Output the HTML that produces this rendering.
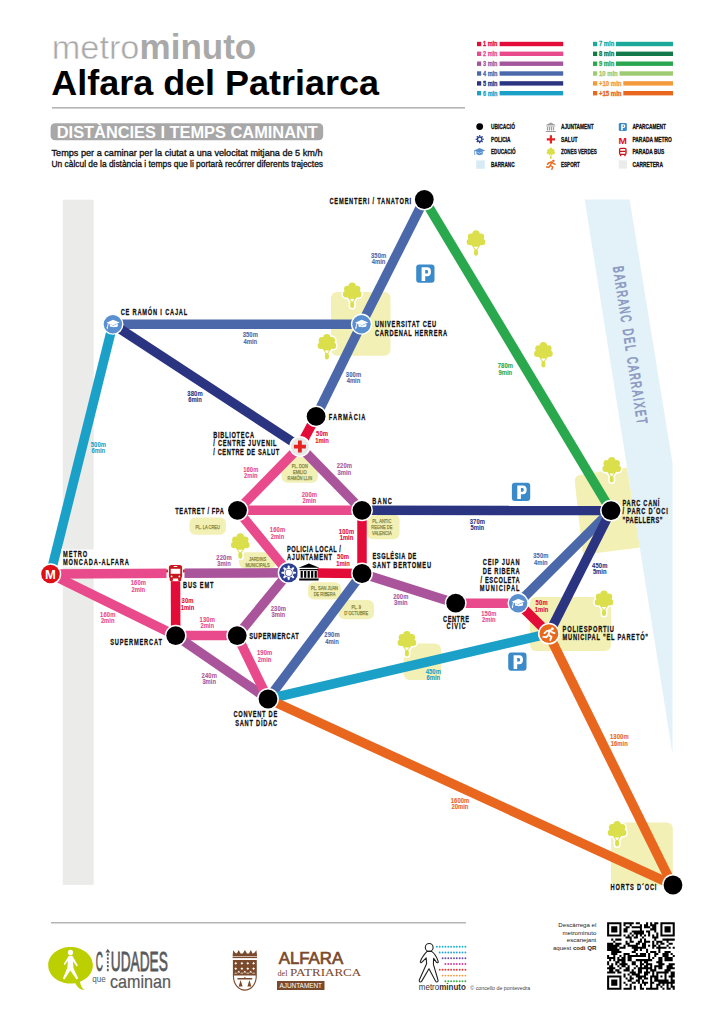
<!DOCTYPE html>
<html><head><meta charset="utf-8">
<style>
html,body{margin:0;padding:0;background:#fff;}
body{width:724px;height:1024px;overflow:hidden;position:relative;font-family:"Liberation Sans",sans-serif;}
svg{position:absolute;left:0;top:0;}
</style></head><body>
<svg width="724" height="1024" viewBox="0 0 724 1024" font-family="Liberation Sans, sans-serif">
<defs>
<g id="treeShape">
 <circle cx="10" cy="3.7" r="3.7"/><circle cx="5.2" cy="6.5" r="3.4"/><circle cx="14.8" cy="6.5" r="3.4"/>
 <circle cx="4" cy="11.7" r="3.3"/><circle cx="16" cy="11.7" r="3.3"/><circle cx="10" cy="9.4" r="5.6"/>
 <circle cx="7.4" cy="12.6" r="2.8"/><circle cx="12.6" cy="12.6" r="2.8"/>
 <path fill-rule="evenodd" d="M5.6,14.8 L14.4,14.8 L10,21.6 Z M7.7,16.4 L12.3,16.4 L10,19.7 Z"/>
 <rect x="8.05" y="19" width="3.9" height="6.4" rx="1.95"/>
</g>
<g id="tree"><use href="#treeShape" fill="#fff" stroke="#fff" stroke-width="3.2"/><use href="#treeShape" fill="#dadf4b"/></g>
<g id="pk"><rect x="0" y="0" width="18.3" height="18.2" rx="3" fill="#3b8bcb"/>
<path fill="#fff" fill-rule="evenodd" d="M5.4,2.7 H11 C13.6,2.7 14.8,4.5 14.8,7.1 C14.8,9.7 13.6,11.6 11,11.6 H9 V16.3 H5.4 Z M9,5.3 V9 H10.6 C11.5,9 11.9,8.3 11.9,7.15 C11.9,6 11.5,5.3 10.6,5.3 Z"/></g>
<g id="cap"><path fill="#fff" d="M-6.4,-1.5 L0.2,-4.5 L6.7,-1.6 L0.2,1.0 Z"/><path fill="#fff" d="M-3.1,-0.4 L-3.1,2.1 C-1.6,3.3 3.4,3.3 4.9,2.1 L4.9,-0.4 L0.2,1.6 Z"/><path fill="none" stroke="#fff" stroke-width="0.9" stroke-linecap="round" d="M0.2,-1.6 L-4.6,-0.9 L-5.6,3.6"/><path fill="#fff" d="M-6.5,3.2 L-4.8,3.4 L-5.6,5.2 Z"/></g>
</defs>
<rect x="62.8" y="199.7" width="30.9" height="685.2" fill="#ebebea"/>
<rect x="331" y="292" width="59.5" height="63.7" rx="6" fill="#f2f0b5"/>
<path d="M581,474.8 L627,467.5 L640,547.4 L585,554.4 Q583,554.6 582.6,552.6 L574.8,482 Q574.3,475.8 581,474.8 Z" fill="#f2f0b5"/>
<rect x="530" y="597" width="81" height="54" rx="6" fill="#f2f0b5"/>
<rect x="611" y="822.5" width="61.8" height="63" rx="6" fill="#f2f0b5"/>
<rect x="403.8" y="643.5" width="37.2" height="36.5" rx="6" fill="#f2f0b5"/>
<polygon points="584.7,199.5 629.6,199.5 672.5,463 672.5,754" fill="#e3f1f8"/>
<text transform="translate(612.9,267) rotate(81.15) scale(0.64,1)" x="0" y="0" font-size="14.8" fill="#8a98c2" stroke="#8a98c2" stroke-width="0.75" textLength="249" lengthAdjust="spacing" word-spacing="1.5">BARRANC DEL CARRAIXET</text>
<rect x="281.5" y="457" width="36.5" height="25.7" rx="6" fill="#f2f0b5"/>
<text x="299.8" y="468.0" font-size="5.6" fill="#85833a" stroke="#85833a" stroke-width="0.25" stroke-linejoin="round" text-anchor="middle" textLength="16.1" lengthAdjust="spacingAndGlyphs">PL. DON</text>
<text x="299.8" y="473.9" font-size="5.6" fill="#85833a" stroke="#85833a" stroke-width="0.25" stroke-linejoin="round" text-anchor="middle" textLength="13.7" lengthAdjust="spacingAndGlyphs">EMILIO</text>
<text x="299.8" y="479.8" font-size="5.6" fill="#85833a" stroke="#85833a" stroke-width="0.25" stroke-linejoin="round" text-anchor="middle" textLength="24.6" lengthAdjust="spacingAndGlyphs">RAMÓN LLIN</text>
<rect x="189.4" y="517.4" width="36.6" height="17.4" rx="6" fill="#f2f0b5"/>
<text x="207.7" y="529.0" font-size="5.6" fill="#85833a" stroke="#85833a" stroke-width="0.25" stroke-linejoin="round" text-anchor="middle" textLength="24.4" lengthAdjust="spacingAndGlyphs">PL. LA CREU</text>
<rect x="239.1" y="552.2" width="36.9" height="16.4" rx="6" fill="#f2f0b5"/>
<text x="257.6" y="560.6" font-size="5.6" fill="#85833a" stroke="#85833a" stroke-width="0.25" stroke-linejoin="round" text-anchor="middle" textLength="17.3" lengthAdjust="spacingAndGlyphs">JARDINS</text>
<text x="257.6" y="566.6" font-size="5.6" fill="#85833a" stroke="#85833a" stroke-width="0.25" stroke-linejoin="round" text-anchor="middle" textLength="24.3" lengthAdjust="spacingAndGlyphs">MUNICIPALS</text>
<rect x="367" y="514" width="32.5" height="25.2" rx="6" fill="#f2f0b5"/>
<text x="381.8" y="523.4" font-size="5.6" fill="#85833a" stroke="#85833a" stroke-width="0.25" stroke-linejoin="round" text-anchor="middle" textLength="19.0" lengthAdjust="spacingAndGlyphs">PL. ANTIC</text>
<text x="381.8" y="529.3" font-size="5.6" fill="#85833a" stroke="#85833a" stroke-width="0.25" stroke-linejoin="round" text-anchor="middle" textLength="21.1" lengthAdjust="spacingAndGlyphs">REGNE DE</text>
<text x="381.8" y="535.2" font-size="5.6" fill="#85833a" stroke="#85833a" stroke-width="0.25" stroke-linejoin="round" text-anchor="middle" textLength="19.6" lengthAdjust="spacingAndGlyphs">VALENCIA</text>
<rect x="308" y="582.3" width="33.0" height="17.3" rx="6" fill="#f2f0b5"/>
<text x="324.5" y="590.3" font-size="5.6" fill="#85833a" stroke="#85833a" stroke-width="0.25" stroke-linejoin="round" text-anchor="middle" textLength="27.1" lengthAdjust="spacingAndGlyphs">PL. SAN JUAN</text>
<text x="324.5" y="596.2" font-size="5.6" fill="#85833a" stroke="#85833a" stroke-width="0.25" stroke-linejoin="round" text-anchor="middle" textLength="21.7" lengthAdjust="spacingAndGlyphs">DE RIBERA</text>
<rect x="338.4" y="600" width="35.6" height="19.2" rx="6" fill="#f2f0b5"/>
<text x="356.2" y="608.9" font-size="5.6" fill="#85833a" stroke="#85833a" stroke-width="0.25" stroke-linejoin="round" text-anchor="middle" textLength="9.4" lengthAdjust="spacingAndGlyphs">PL. 9</text>
<text x="356.2" y="614.9" font-size="5.6" fill="#85833a" stroke="#85833a" stroke-width="0.25" stroke-linejoin="round" text-anchor="middle" textLength="24.0" lengthAdjust="spacingAndGlyphs">D´OCTUBRE</text>
<use href="#tree" x="342.2" y="282.6"/>
<use href="#tree" x="316.9" y="334.0"/>
<use href="#tree" x="466.0" y="230.3"/>
<use href="#tree" x="533.4" y="342.1"/>
<use href="#tree" x="601.7" y="457.0"/>
<use href="#tree" x="594.0" y="590.5"/>
<use href="#tree" x="607.1" y="821.0"/>
<use href="#tree" x="230.3" y="533.3"/>
<use href="#tree" x="396.9" y="631.0"/>
<use href="#pk" x="416.2" y="264.6"/>
<use href="#pk" x="511.9" y="482.7"/>
<use href="#pk" x="508.2" y="652.6"/>
<g stroke-width="9.5" stroke-linecap="butt">
<line x1="424.3" y1="199.5" x2="361.5" y2="324.2" stroke="#4b69aa"/>
<line x1="424.3" y1="199.5" x2="611.0" y2="510.6" stroke="#29a84d"/>
<line x1="112.9" y1="324.2" x2="361.5" y2="324.2" stroke="#4b69aa"/>
<line x1="112.9" y1="324.2" x2="50.5" y2="574" stroke="#1ba1c8"/>
<line x1="112.9" y1="324.2" x2="299.9" y2="446.6" stroke="#2b3481"/>
<line x1="361.5" y1="324.2" x2="316.1" y2="416.4" stroke="#4b69aa"/>
<line x1="316.1" y1="416.4" x2="299.9" y2="446.6" stroke="#e30b37"/>
<line x1="299.9" y1="446.6" x2="237.5" y2="510.3" stroke="#e84a8b"/>
<line x1="299.9" y1="446.6" x2="362.0" y2="510.3" stroke="#aa559b"/>
<line x1="237.5" y1="510.3" x2="362.0" y2="510.3" stroke="#e84a8b"/>
<line x1="237.5" y1="510.3" x2="288.7" y2="572.8" stroke="#e84a8b"/>
<line x1="362.0" y1="510.3" x2="611.0" y2="510.6" stroke="#2b3481"/>
<line x1="362.0" y1="510.3" x2="362.0" y2="573.5" stroke="#e30b37"/>
<line x1="50.5" y1="574" x2="175.5" y2="573.2" stroke="#e84a8b"/>
<line x1="175.5" y1="573.2" x2="288.7" y2="572.8" stroke="#aa559b"/>
<line x1="50.5" y1="574" x2="175.7" y2="635.6" stroke="#e84a8b"/>
<line x1="175.5" y1="573.2" x2="175.7" y2="635.6" stroke="#e30b37"/>
<line x1="175.7" y1="635.6" x2="237.2" y2="635.6" stroke="#e84a8b"/>
<line x1="175.7" y1="635.6" x2="268.0" y2="699" stroke="#aa559b"/>
<line x1="288.7" y1="572.8" x2="237.2" y2="635.6" stroke="#aa559b"/>
<line x1="237.2" y1="635.6" x2="268.0" y2="699" stroke="#e84a8b"/>
<line x1="288.7" y1="572.8" x2="362.0" y2="573.5" stroke="#e30b37"/>
<line x1="362.0" y1="573.5" x2="268.0" y2="699" stroke="#4b69aa"/>
<line x1="362.0" y1="573.5" x2="455.7" y2="603.2" stroke="#aa559b"/>
<line x1="455.7" y1="603.2" x2="518.1" y2="603.2" stroke="#e84a8b"/>
<line x1="518.1" y1="603.2" x2="611.0" y2="510.6" stroke="#4b69aa"/>
<line x1="518.1" y1="603.2" x2="548.9" y2="633.7" stroke="#e30b37"/>
<line x1="611.0" y1="510.6" x2="548.9" y2="633.7" stroke="#2b3481"/>
<line x1="268.0" y1="699" x2="548.9" y2="633.7" stroke="#1ba1c8"/>
<line x1="268.0" y1="699" x2="673.0" y2="885" stroke="#e8661e"/>
<line x1="548.3" y1="633.7" x2="672.4" y2="885" stroke="#e8661e"/>
</g>
<circle cx="424.3" cy="199.5" r="10.9" fill="#fff"/><circle cx="424.3" cy="199.5" r="9.4" fill="#000"/>
<circle cx="316.1" cy="416.4" r="10.9" fill="#fff"/><circle cx="316.1" cy="416.4" r="9.4" fill="#000"/>
<circle cx="237.5" cy="510.3" r="10.9" fill="#fff"/><circle cx="237.5" cy="510.3" r="9.4" fill="#000"/>
<circle cx="362" cy="510.3" r="10.9" fill="#fff"/><circle cx="362" cy="510.3" r="9.4" fill="#000"/>
<circle cx="362" cy="573.5" r="10.9" fill="#fff"/><circle cx="362" cy="573.5" r="9.4" fill="#000"/>
<circle cx="175.7" cy="635.6" r="10.9" fill="#fff"/><circle cx="175.7" cy="635.6" r="9.4" fill="#000"/>
<circle cx="237.2" cy="635.6" r="10.9" fill="#fff"/><circle cx="237.2" cy="635.6" r="9.4" fill="#000"/>
<circle cx="268" cy="699" r="10.9" fill="#fff"/><circle cx="268" cy="699" r="9.4" fill="#000"/>
<circle cx="455.7" cy="603.2" r="10.9" fill="#fff"/><circle cx="455.7" cy="603.2" r="9.4" fill="#000"/>
<circle cx="611" cy="510.6" r="10.9" fill="#fff"/><circle cx="611" cy="510.6" r="9.4" fill="#000"/>
<circle cx="673" cy="885" r="10.9" fill="#fff"/><circle cx="673" cy="885" r="9.4" fill="#000"/>
<circle cx="112.9" cy="324.2" r="10.6" fill="#fff"/><circle cx="112.9" cy="324.2" r="9.2" fill="#5b90d0"/><use href="#cap" x="112.9" y="324.2"/>
<circle cx="361.5" cy="324.2" r="10.6" fill="#fff"/><circle cx="361.5" cy="324.2" r="9.2" fill="#5b90d0"/><use href="#cap" x="361.5" y="324.2"/>
<circle cx="518.1" cy="603.2" r="10.6" fill="#fff"/><circle cx="518.1" cy="603.2" r="9.2" fill="#5b90d0"/><use href="#cap" x="518.1" y="603.2"/>
<circle cx="299.9" cy="446.6" r="10.6" fill="#fff"/><circle cx="299.9" cy="446.6" r="9.1" fill="#e8e8e8"/><path fill="#e42320" d="M298.0,440.6 h3.8 v4.1 h4.1 v3.8 h-4.1 v4.1 h-3.8 v-4.1 h-4.1 v-3.8 h4.1 Z"/>
<circle cx="50.5" cy="574" r="10.8" fill="#fff"/><circle cx="50.5" cy="574" r="9.3" fill="#dc1016"/><text x="50.5" y="578.6" font-size="13" font-weight="bold" fill="#fff" text-anchor="middle">M</text>
<circle cx="288.7" cy="572.8" r="11" fill="#fff"/><circle cx="288.7" cy="572.8" r="9.5" fill="#2b3f92"/>
<line x1="292.70" y1="572.80" x2="295.00" y2="572.80" stroke="#fff" stroke-width="2.1" stroke-linecap="round"/>
<line x1="291.53" y1="575.63" x2="293.15" y2="577.25" stroke="#fff" stroke-width="2.1" stroke-linecap="round"/>
<line x1="288.70" y1="576.80" x2="288.70" y2="579.10" stroke="#fff" stroke-width="2.1" stroke-linecap="round"/>
<line x1="285.87" y1="575.63" x2="284.25" y2="577.25" stroke="#fff" stroke-width="2.1" stroke-linecap="round"/>
<line x1="284.70" y1="572.80" x2="282.40" y2="572.80" stroke="#fff" stroke-width="2.1" stroke-linecap="round"/>
<line x1="285.87" y1="569.97" x2="284.25" y2="568.35" stroke="#fff" stroke-width="2.1" stroke-linecap="round"/>
<line x1="288.70" y1="568.80" x2="288.70" y2="566.50" stroke="#fff" stroke-width="2.1" stroke-linecap="round"/>
<line x1="291.53" y1="569.97" x2="293.15" y2="568.35" stroke="#fff" stroke-width="2.1" stroke-linecap="round"/>
<circle cx="288.7" cy="572.8" r="4.9" fill="#fff"/><circle cx="288.7" cy="572.8" r="3.9" fill="#2b3f92"/><circle cx="288.7" cy="572.8" r="3.2" fill="#fff"/>
<rect x="297.5" y="562.5" width="20" height="19.5" fill="#fff"/>
<path fill="#000" d="M298.4,567.8 L308.9,563.6 L319.4,567.8 Z M299.6,569 H318.2 V570.2 H299.6 Z M300.6,571 h2.2 v6.8 h-2.2 Z M304.1,571 h2.2 v6.8 h-2.2 Z M307.6,571 h2.2 v6.8 h-2.2 Z M311.1,571 h2.2 v6.8 h-2.2 Z M314.6,571 h2.2 v6.8 h-2.2 Z M299.2,578.4 H318.6 V580.6 H299.2 Z"/>
<rect x="166.5" y="564.2" width="18" height="17" fill="#fff"/>
<g fill="#c8161d"><rect x="168.9" y="565.0" width="13.2" height="13.4" rx="2.6"/><rect x="169.7" y="576.6" width="3.2" height="4.4" rx="1"/><rect x="178.1" y="576.6" width="3.2" height="4.4" rx="1"/><ellipse cx="167.1" cy="571.0" rx="0.9" ry="1.8"/><ellipse cx="183.9" cy="571.0" rx="0.9" ry="1.8"/></g>
<rect x="170.7" y="568.8000000000001" width="9.6" height="5" fill="#fff"/><rect x="173.7" y="566.0" width="3.6" height="1" fill="#fff"/><circle cx="171.6" cy="576.4000000000001" r="0.9" fill="#fff"/><circle cx="179.4" cy="576.4000000000001" r="0.9" fill="#fff"/>
<circle cx="548.9" cy="633.7" r="10.9" fill="#fff"/><circle cx="548.9" cy="633.7" r="9.4" fill="#e8681c"/>
<g transform="translate(548.9,633.7)" fill="#fff" stroke="#fff" stroke-linecap="round" stroke-linejoin="round"><circle cx="3.4" cy="-5" r="1.5" stroke="none"/><path fill="none" stroke-width="1.9" d="M-2.2,-2.6 L1.2,-3.6 L3.2,-1.4 L5.6,-0.6 M1.2,-3.6 L-0.6,1.2 L2.6,3.2 L1.4,6.2 M-0.6,1.2 L-2.6,3.6 L-5.6,3.2 M-2.2,-2.6 L-4.4,-0.6"/></g>
<text transform="scale(0.66,1)" x="499.09" y="203.8" font-size="8.6" font-weight="bold" fill="#111" stroke="#111" stroke-width="0.25" stroke-linejoin="round" text-anchor="start" textLength="123.9" lengthAdjust="spacing">CEMENTERI / TANATORI</text>
<text transform="scale(0.66,1)" x="182.88" y="315.5" font-size="8.6" font-weight="bold" fill="#111" stroke="#111" stroke-width="0.25" stroke-linejoin="round" text-anchor="start" textLength="100.8" lengthAdjust="spacing">CE RAMÓN I CAJAL</text>
<text transform="scale(0.66,1)" x="568.18" y="327.4" font-size="8.6" font-weight="bold" fill="#111" stroke="#111" stroke-width="0.25" stroke-linejoin="round" text-anchor="start" textLength="92.7" lengthAdjust="spacing">UNIVERSITAT CEU</text>
<text transform="scale(0.66,1)" x="568.18" y="336.1" font-size="8.6" font-weight="bold" fill="#111" stroke="#111" stroke-width="0.25" stroke-linejoin="round" text-anchor="start" textLength="109.2" lengthAdjust="spacing">CARDENAL HERRERA</text>
<text transform="scale(0.66,1)" x="498.18" y="420.1" font-size="8.6" font-weight="bold" fill="#111" stroke="#111" stroke-width="0.25" stroke-linejoin="round" text-anchor="start" textLength="55.3" lengthAdjust="spacing">FARMÀCIA</text>
<text transform="scale(0.66,1)" x="323.18" y="437.7" font-size="8.6" font-weight="bold" fill="#111" stroke="#111" stroke-width="0.25" stroke-linejoin="round" text-anchor="start" textLength="61.8" lengthAdjust="spacing">BIBLIOTECA</text>
<text transform="scale(0.66,1)" x="323.18" y="445.8" font-size="8.6" font-weight="bold" fill="#111" stroke="#111" stroke-width="0.25" stroke-linejoin="round" text-anchor="start" textLength="95.8" lengthAdjust="spacing">/ CENTRE JUVENIL</text>
<text transform="scale(0.66,1)" x="323.18" y="454.7" font-size="8.6" font-weight="bold" fill="#111" stroke="#111" stroke-width="0.25" stroke-linejoin="round" text-anchor="start" textLength="99.8" lengthAdjust="spacing">/ CENTRE DE SALUT</text>
<text transform="scale(0.66,1)" x="265.61" y="513.7" font-size="8.6" font-weight="bold" fill="#111" stroke="#111" stroke-width="0.25" stroke-linejoin="round" text-anchor="start" textLength="73.6" lengthAdjust="spacing">TEATRET / FPA</text>
<text transform="scale(0.66,1)" x="564.09" y="504.0" font-size="8.6" font-weight="bold" fill="#111" stroke="#111" stroke-width="0.25" stroke-linejoin="round" text-anchor="start" textLength="29.8" lengthAdjust="spacing">BANC</text>
<rect x="61" y="549.5" width="70" height="18" fill="#fff"/>
<text transform="scale(0.66,1)" x="95.45" y="557.0" font-size="8.6" font-weight="bold" fill="#111" stroke="#111" stroke-width="0.25" stroke-linejoin="round" text-anchor="start" textLength="36.8" lengthAdjust="spacing">METRO</text>
<text transform="scale(0.66,1)" x="95.45" y="565.4" font-size="8.6" font-weight="bold" fill="#111" stroke="#111" stroke-width="0.25" stroke-linejoin="round" text-anchor="start" textLength="99.7" lengthAdjust="spacing">MONCADA-ALFARA</text>
<text transform="scale(0.66,1)" x="277.27" y="587.8" font-size="8.6" font-weight="bold" fill="#111" stroke="#111" stroke-width="0.25" stroke-linejoin="round" text-anchor="start" textLength="46.1" lengthAdjust="spacing">BUS EMT</text>
<text transform="scale(0.66,1)" x="435.00" y="552.0" font-size="8.6" font-weight="bold" fill="#111" stroke="#111" stroke-width="0.25" stroke-linejoin="round" text-anchor="start" textLength="81.4" lengthAdjust="spacing">POLICIA LOCAL /</text>
<text transform="scale(0.66,1)" x="435.00" y="560.0" font-size="8.6" font-weight="bold" fill="#111" stroke="#111" stroke-width="0.25" stroke-linejoin="round" text-anchor="start" textLength="67.9" lengthAdjust="spacing">AJUNTAMENT</text>
<text transform="scale(0.66,1)" x="564.39" y="559.4" font-size="8.6" font-weight="bold" fill="#111" stroke="#111" stroke-width="0.25" stroke-linejoin="round" text-anchor="start" textLength="66.5" lengthAdjust="spacing">ESGLÉSIA DE</text>
<text transform="scale(0.66,1)" x="564.24" y="568.1" font-size="8.6" font-weight="bold" fill="#111" stroke="#111" stroke-width="0.25" stroke-linejoin="round" text-anchor="start" textLength="88.8" lengthAdjust="spacing">SANT BERTOMEU</text>
<text transform="scale(0.66,1)" x="166.97" y="645.0" font-size="8.6" font-weight="bold" fill="#111" stroke="#111" stroke-width="0.25" stroke-linejoin="round" text-anchor="start" textLength="78.3" lengthAdjust="spacing">SUPERMERCAT</text>
<text transform="scale(0.66,1)" x="377.58" y="638.6" font-size="8.6" font-weight="bold" fill="#111" stroke="#111" stroke-width="0.25" stroke-linejoin="round" text-anchor="start" textLength="75.0" lengthAdjust="spacing">SUPERMERCAT</text>
<text transform="scale(0.66,1)" x="353.79" y="717.0" font-size="8.6" font-weight="bold" fill="#111" stroke="#111" stroke-width="0.25" stroke-linejoin="round" text-anchor="start" textLength="66.2" lengthAdjust="spacing">CONVENT DE</text>
<text transform="scale(0.66,1)" x="356.36" y="725.9" font-size="8.6" font-weight="bold" fill="#111" stroke="#111" stroke-width="0.25" stroke-linejoin="round" text-anchor="start" textLength="63.6" lengthAdjust="spacing">SANT DÍDAC</text>
<text transform="scale(0.66,1)" x="671.21" y="621.7" font-size="8.6" font-weight="bold" fill="#111" stroke="#111" stroke-width="0.25" stroke-linejoin="round" text-anchor="start" textLength="39.4" lengthAdjust="spacing">CENTRE</text>
<text transform="scale(0.66,1)" x="676.67" y="629.3" font-size="8.6" font-weight="bold" fill="#111" stroke="#111" stroke-width="0.25" stroke-linejoin="round" text-anchor="start" textLength="28.9" lengthAdjust="spacing">CÍVIC</text>
<text transform="scale(0.66,1)" x="787.27" y="565.2" font-size="8.6" font-weight="bold" fill="#111" stroke="#111" stroke-width="0.25" stroke-linejoin="round" text-anchor="end" textLength="55.8" lengthAdjust="spacing">CEIP JUAN</text>
<text transform="scale(0.66,1)" x="787.27" y="574.1" font-size="8.6" font-weight="bold" fill="#111" stroke="#111" stroke-width="0.25" stroke-linejoin="round" text-anchor="end" textLength="55.8" lengthAdjust="spacing">DE RIBERA</text>
<text transform="scale(0.66,1)" x="787.27" y="582.7" font-size="8.6" font-weight="bold" fill="#111" stroke="#111" stroke-width="0.25" stroke-linejoin="round" text-anchor="end" textLength="59.1" lengthAdjust="spacing">/ ESCOLETA</text>
<text transform="scale(0.66,1)" x="787.27" y="591.2" font-size="8.6" font-weight="bold" fill="#111" stroke="#111" stroke-width="0.25" stroke-linejoin="round" text-anchor="end" textLength="60.3" lengthAdjust="spacing">MUNICIPAL</text>
<text transform="scale(0.66,1)" x="943.18" y="505.9" font-size="8.6" font-weight="bold" fill="#111" stroke="#111" stroke-width="0.25" stroke-linejoin="round" text-anchor="start" textLength="55.9" lengthAdjust="spacing">PARC CANÍ</text>
<text transform="scale(0.66,1)" x="943.18" y="514.2" font-size="8.6" font-weight="bold" fill="#111" stroke="#111" stroke-width="0.25" stroke-linejoin="round" text-anchor="start" textLength="68.6" lengthAdjust="spacing">/ PARC D´OCI</text>
<text transform="scale(0.66,1)" x="943.18" y="522.9" font-size="8.6" font-weight="bold" fill="#111" stroke="#111" stroke-width="0.25" stroke-linejoin="round" text-anchor="start" textLength="60.6" lengthAdjust="spacing">&quot;PAELLERS&quot;</text>
<text transform="scale(0.66,1)" x="852.42" y="631.6" font-size="8.6" font-weight="bold" fill="#111" stroke="#111" stroke-width="0.25" stroke-linejoin="round" text-anchor="start" textLength="77.6" lengthAdjust="spacing">POLIESPORTIU</text>
<text transform="scale(0.66,1)" x="852.42" y="640.5" font-size="8.6" font-weight="bold" fill="#111" stroke="#111" stroke-width="0.25" stroke-linejoin="round" text-anchor="start" textLength="129.4" lengthAdjust="spacing">MUNICIPAL &quot;EL PARETÓ&quot;</text>
<text transform="scale(0.66,1)" x="925.15" y="890.3" font-size="8.6" font-weight="bold" fill="#111" stroke="#111" stroke-width="0.25" stroke-linejoin="round" text-anchor="start" textLength="69.4" lengthAdjust="spacing">HORTS D´OCI</text>
<text transform="scale(0.8,1)" x="473.25" y="257.8" font-size="7.3" font-weight="bold" fill="#4b69aa" stroke="#4b69aa" stroke-width="0.1" stroke-linejoin="round" text-anchor="middle" textLength="19.1" lengthAdjust="spacing">350m</text>
<text transform="scale(0.8,1)" x="473.25" y="264.4" font-size="7.3" font-weight="bold" fill="#4b69aa" stroke="#4b69aa" stroke-width="0.1" stroke-linejoin="round" text-anchor="middle" textLength="17.0" lengthAdjust="spacing">4min</text>
<text transform="scale(0.8,1)" x="312.88" y="337.4" font-size="7.3" font-weight="bold" fill="#4b69aa" stroke="#4b69aa" stroke-width="0.1" stroke-linejoin="round" text-anchor="middle" textLength="19.1" lengthAdjust="spacing">350m</text>
<text transform="scale(0.8,1)" x="312.88" y="344.0" font-size="7.3" font-weight="bold" fill="#4b69aa" stroke="#4b69aa" stroke-width="0.1" stroke-linejoin="round" text-anchor="middle" textLength="17.0" lengthAdjust="spacing">4min</text>
<text transform="scale(0.8,1)" x="441.88" y="376.7" font-size="7.3" font-weight="bold" fill="#4b69aa" stroke="#4b69aa" stroke-width="0.1" stroke-linejoin="round" text-anchor="middle" textLength="19.1" lengthAdjust="spacing">300m</text>
<text transform="scale(0.8,1)" x="441.88" y="383.3" font-size="7.3" font-weight="bold" fill="#4b69aa" stroke="#4b69aa" stroke-width="0.1" stroke-linejoin="round" text-anchor="middle" textLength="17.0" lengthAdjust="spacing">4min</text>
<text transform="scale(0.8,1)" x="123.00" y="446.7" font-size="7.3" font-weight="bold" fill="#1ba1c8" stroke="#1ba1c8" stroke-width="0.1" stroke-linejoin="round" text-anchor="middle" textLength="19.1" lengthAdjust="spacing">500m</text>
<text transform="scale(0.8,1)" x="123.00" y="453.3" font-size="7.3" font-weight="bold" fill="#1ba1c8" stroke="#1ba1c8" stroke-width="0.1" stroke-linejoin="round" text-anchor="middle" textLength="17.0" lengthAdjust="spacing">6min</text>
<text transform="scale(0.8,1)" x="243.75" y="395.6" font-size="7.3" font-weight="bold" fill="#2b3481" stroke="#2b3481" stroke-width="0.1" stroke-linejoin="round" text-anchor="middle" textLength="19.1" lengthAdjust="spacing">380m</text>
<text transform="scale(0.8,1)" x="243.75" y="402.2" font-size="7.3" font-weight="bold" fill="#2b3481" stroke="#2b3481" stroke-width="0.1" stroke-linejoin="round" text-anchor="middle" textLength="17.0" lengthAdjust="spacing">6min</text>
<text transform="scale(0.8,1)" x="402.50" y="436.0" font-size="7.3" font-weight="bold" fill="#e30b37" stroke="#e30b37" stroke-width="0.1" stroke-linejoin="round" text-anchor="middle" textLength="15.0" lengthAdjust="spacing">50m</text>
<text transform="scale(0.8,1)" x="402.50" y="442.6" font-size="7.3" font-weight="bold" fill="#e30b37" stroke="#e30b37" stroke-width="0.1" stroke-linejoin="round" text-anchor="middle" textLength="17.0" lengthAdjust="spacing">1min</text>
<text transform="scale(0.8,1)" x="313.50" y="471.6" font-size="7.3" font-weight="bold" fill="#e84a8b" stroke="#e84a8b" stroke-width="0.1" stroke-linejoin="round" text-anchor="middle" textLength="19.1" lengthAdjust="spacing">160m</text>
<text transform="scale(0.8,1)" x="313.50" y="478.2" font-size="7.3" font-weight="bold" fill="#e84a8b" stroke="#e84a8b" stroke-width="0.1" stroke-linejoin="round" text-anchor="middle" textLength="17.0" lengthAdjust="spacing">2min</text>
<text transform="scale(0.8,1)" x="430.50" y="468.5" font-size="7.3" font-weight="bold" fill="#aa559b" stroke="#aa559b" stroke-width="0.1" stroke-linejoin="round" text-anchor="middle" textLength="19.1" lengthAdjust="spacing">220m</text>
<text transform="scale(0.8,1)" x="430.50" y="475.1" font-size="7.3" font-weight="bold" fill="#aa559b" stroke="#aa559b" stroke-width="0.1" stroke-linejoin="round" text-anchor="middle" textLength="17.0" lengthAdjust="spacing">3min</text>
<text transform="scale(0.8,1)" x="386.75" y="496.8" font-size="7.3" font-weight="bold" fill="#e84a8b" stroke="#e84a8b" stroke-width="0.1" stroke-linejoin="round" text-anchor="middle" textLength="19.1" lengthAdjust="spacing">200m</text>
<text transform="scale(0.8,1)" x="386.75" y="503.4" font-size="7.3" font-weight="bold" fill="#e84a8b" stroke="#e84a8b" stroke-width="0.1" stroke-linejoin="round" text-anchor="middle" textLength="17.0" lengthAdjust="spacing">2min</text>
<text transform="scale(0.8,1)" x="346.88" y="532.4" font-size="7.3" font-weight="bold" fill="#e84a8b" stroke="#e84a8b" stroke-width="0.1" stroke-linejoin="round" text-anchor="middle" textLength="19.1" lengthAdjust="spacing">160m</text>
<text transform="scale(0.8,1)" x="346.88" y="539.0" font-size="7.3" font-weight="bold" fill="#e84a8b" stroke="#e84a8b" stroke-width="0.1" stroke-linejoin="round" text-anchor="middle" textLength="17.0" lengthAdjust="spacing">2min</text>
<text transform="scale(0.8,1)" x="433.12" y="533.9" font-size="7.3" font-weight="bold" fill="#e30b37" stroke="#e30b37" stroke-width="0.1" stroke-linejoin="round" text-anchor="middle" textLength="19.1" lengthAdjust="spacing">100m</text>
<text transform="scale(0.8,1)" x="433.12" y="540.5" font-size="7.3" font-weight="bold" fill="#e30b37" stroke="#e30b37" stroke-width="0.1" stroke-linejoin="round" text-anchor="middle" textLength="17.0" lengthAdjust="spacing">1min</text>
<text transform="scale(0.8,1)" x="596.75" y="523.8" font-size="7.3" font-weight="bold" fill="#2b3481" stroke="#2b3481" stroke-width="0.1" stroke-linejoin="round" text-anchor="middle" textLength="19.1" lengthAdjust="spacing">370m</text>
<text transform="scale(0.8,1)" x="596.75" y="530.4" font-size="7.3" font-weight="bold" fill="#2b3481" stroke="#2b3481" stroke-width="0.1" stroke-linejoin="round" text-anchor="middle" textLength="17.0" lengthAdjust="spacing">5min</text>
<text transform="scale(0.8,1)" x="172.88" y="585.2" font-size="7.3" font-weight="bold" fill="#e84a8b" stroke="#e84a8b" stroke-width="0.1" stroke-linejoin="round" text-anchor="middle" textLength="19.1" lengthAdjust="spacing">160m</text>
<text transform="scale(0.8,1)" x="172.88" y="591.8" font-size="7.3" font-weight="bold" fill="#e84a8b" stroke="#e84a8b" stroke-width="0.1" stroke-linejoin="round" text-anchor="middle" textLength="17.0" lengthAdjust="spacing">2min</text>
<text transform="scale(0.8,1)" x="134.62" y="616.8" font-size="7.3" font-weight="bold" fill="#e84a8b" stroke="#e84a8b" stroke-width="0.1" stroke-linejoin="round" text-anchor="middle" textLength="19.1" lengthAdjust="spacing">160m</text>
<text transform="scale(0.8,1)" x="134.62" y="623.4" font-size="7.3" font-weight="bold" fill="#e84a8b" stroke="#e84a8b" stroke-width="0.1" stroke-linejoin="round" text-anchor="middle" textLength="17.0" lengthAdjust="spacing">2min</text>
<text transform="scale(0.8,1)" x="234.38" y="603.1" font-size="7.3" font-weight="bold" fill="#e30b37" stroke="#e30b37" stroke-width="0.1" stroke-linejoin="round" text-anchor="middle" textLength="15.0" lengthAdjust="spacing">30m</text>
<text transform="scale(0.8,1)" x="234.38" y="609.7" font-size="7.3" font-weight="bold" fill="#e30b37" stroke="#e30b37" stroke-width="0.1" stroke-linejoin="round" text-anchor="middle" textLength="17.0" lengthAdjust="spacing">1min</text>
<text transform="scale(0.8,1)" x="259.00" y="621.8" font-size="7.3" font-weight="bold" fill="#e84a8b" stroke="#e84a8b" stroke-width="0.1" stroke-linejoin="round" text-anchor="middle" textLength="19.1" lengthAdjust="spacing">130m</text>
<text transform="scale(0.8,1)" x="259.00" y="628.4" font-size="7.3" font-weight="bold" fill="#e84a8b" stroke="#e84a8b" stroke-width="0.1" stroke-linejoin="round" text-anchor="middle" textLength="17.0" lengthAdjust="spacing">2min</text>
<text transform="scale(0.8,1)" x="280.00" y="559.6" font-size="7.3" font-weight="bold" fill="#aa559b" stroke="#aa559b" stroke-width="0.1" stroke-linejoin="round" text-anchor="middle" textLength="19.1" lengthAdjust="spacing">220m</text>
<text transform="scale(0.8,1)" x="280.00" y="566.2" font-size="7.3" font-weight="bold" fill="#aa559b" stroke="#aa559b" stroke-width="0.1" stroke-linejoin="round" text-anchor="middle" textLength="17.0" lengthAdjust="spacing">3min</text>
<text transform="scale(0.8,1)" x="428.75" y="559.3" font-size="7.3" font-weight="bold" fill="#e30b37" stroke="#e30b37" stroke-width="0.1" stroke-linejoin="round" text-anchor="middle" textLength="15.0" lengthAdjust="spacing">50m</text>
<text transform="scale(0.8,1)" x="428.75" y="565.9" font-size="7.3" font-weight="bold" fill="#e30b37" stroke="#e30b37" stroke-width="0.1" stroke-linejoin="round" text-anchor="middle" textLength="17.0" lengthAdjust="spacing">1min</text>
<text transform="scale(0.8,1)" x="347.88" y="610.9" font-size="7.3" font-weight="bold" fill="#aa559b" stroke="#aa559b" stroke-width="0.1" stroke-linejoin="round" text-anchor="middle" textLength="19.1" lengthAdjust="spacing">230m</text>
<text transform="scale(0.8,1)" x="347.88" y="617.5" font-size="7.3" font-weight="bold" fill="#aa559b" stroke="#aa559b" stroke-width="0.1" stroke-linejoin="round" text-anchor="middle" textLength="17.0" lengthAdjust="spacing">3min</text>
<text transform="scale(0.8,1)" x="330.75" y="655.5" font-size="7.3" font-weight="bold" fill="#e84a8b" stroke="#e84a8b" stroke-width="0.1" stroke-linejoin="round" text-anchor="middle" textLength="19.1" lengthAdjust="spacing">190m</text>
<text transform="scale(0.8,1)" x="330.75" y="662.1" font-size="7.3" font-weight="bold" fill="#e84a8b" stroke="#e84a8b" stroke-width="0.1" stroke-linejoin="round" text-anchor="middle" textLength="17.0" lengthAdjust="spacing">2min</text>
<text transform="scale(0.8,1)" x="261.50" y="677.6" font-size="7.3" font-weight="bold" fill="#aa559b" stroke="#aa559b" stroke-width="0.1" stroke-linejoin="round" text-anchor="middle" textLength="19.1" lengthAdjust="spacing">240m</text>
<text transform="scale(0.8,1)" x="261.50" y="684.2" font-size="7.3" font-weight="bold" fill="#aa559b" stroke="#aa559b" stroke-width="0.1" stroke-linejoin="round" text-anchor="middle" textLength="17.0" lengthAdjust="spacing">3min</text>
<text transform="scale(0.8,1)" x="415.00" y="637.4" font-size="7.3" font-weight="bold" fill="#4b69aa" stroke="#4b69aa" stroke-width="0.1" stroke-linejoin="round" text-anchor="middle" textLength="19.1" lengthAdjust="spacing">290m</text>
<text transform="scale(0.8,1)" x="415.00" y="644.0" font-size="7.3" font-weight="bold" fill="#4b69aa" stroke="#4b69aa" stroke-width="0.1" stroke-linejoin="round" text-anchor="middle" textLength="17.0" lengthAdjust="spacing">4min</text>
<text transform="scale(0.8,1)" x="501.00" y="598.9" font-size="7.3" font-weight="bold" fill="#aa559b" stroke="#aa559b" stroke-width="0.1" stroke-linejoin="round" text-anchor="middle" textLength="19.1" lengthAdjust="spacing">200m</text>
<text transform="scale(0.8,1)" x="501.00" y="605.5" font-size="7.3" font-weight="bold" fill="#aa559b" stroke="#aa559b" stroke-width="0.1" stroke-linejoin="round" text-anchor="middle" textLength="17.0" lengthAdjust="spacing">3min</text>
<text transform="scale(0.8,1)" x="611.12" y="615.9" font-size="7.3" font-weight="bold" fill="#e84a8b" stroke="#e84a8b" stroke-width="0.1" stroke-linejoin="round" text-anchor="middle" textLength="19.1" lengthAdjust="spacing">150m</text>
<text transform="scale(0.8,1)" x="611.12" y="622.5" font-size="7.3" font-weight="bold" fill="#e84a8b" stroke="#e84a8b" stroke-width="0.1" stroke-linejoin="round" text-anchor="middle" textLength="17.0" lengthAdjust="spacing">2min</text>
<text transform="scale(0.8,1)" x="677.00" y="605.5" font-size="7.3" font-weight="bold" fill="#e30b37" stroke="#e30b37" stroke-width="0.1" stroke-linejoin="round" text-anchor="middle" textLength="15.0" lengthAdjust="spacing">50m</text>
<text transform="scale(0.8,1)" x="677.00" y="612.1" font-size="7.3" font-weight="bold" fill="#e30b37" stroke="#e30b37" stroke-width="0.1" stroke-linejoin="round" text-anchor="middle" textLength="17.0" lengthAdjust="spacing">1min</text>
<text transform="scale(0.8,1)" x="676.12" y="558.1" font-size="7.3" font-weight="bold" fill="#4b69aa" stroke="#4b69aa" stroke-width="0.1" stroke-linejoin="round" text-anchor="middle" textLength="19.1" lengthAdjust="spacing">350m</text>
<text transform="scale(0.8,1)" x="676.12" y="564.7" font-size="7.3" font-weight="bold" fill="#4b69aa" stroke="#4b69aa" stroke-width="0.1" stroke-linejoin="round" text-anchor="middle" textLength="17.0" lengthAdjust="spacing">4min</text>
<text transform="scale(0.8,1)" x="749.62" y="567.8" font-size="7.3" font-weight="bold" fill="#2b3481" stroke="#2b3481" stroke-width="0.1" stroke-linejoin="round" text-anchor="middle" textLength="19.1" lengthAdjust="spacing">450m</text>
<text transform="scale(0.8,1)" x="749.62" y="574.4" font-size="7.3" font-weight="bold" fill="#2b3481" stroke="#2b3481" stroke-width="0.1" stroke-linejoin="round" text-anchor="middle" textLength="17.0" lengthAdjust="spacing">5min</text>
<text transform="scale(0.8,1)" x="541.62" y="673.7" font-size="7.3" font-weight="bold" fill="#1ba1c8" stroke="#1ba1c8" stroke-width="0.1" stroke-linejoin="round" text-anchor="middle" textLength="19.1" lengthAdjust="spacing">450m</text>
<text transform="scale(0.8,1)" x="541.62" y="680.3" font-size="7.3" font-weight="bold" fill="#1ba1c8" stroke="#1ba1c8" stroke-width="0.1" stroke-linejoin="round" text-anchor="middle" textLength="17.0" lengthAdjust="spacing">6min</text>
<text transform="scale(0.8,1)" x="631.75" y="368.2" font-size="7.3" font-weight="bold" fill="#29a84d" stroke="#29a84d" stroke-width="0.1" stroke-linejoin="round" text-anchor="middle" textLength="19.1" lengthAdjust="spacing">780m</text>
<text transform="scale(0.8,1)" x="631.75" y="374.8" font-size="7.3" font-weight="bold" fill="#29a84d" stroke="#29a84d" stroke-width="0.1" stroke-linejoin="round" text-anchor="middle" textLength="17.0" lengthAdjust="spacing">9min</text>
<text transform="scale(0.8,1)" x="774.12" y="739.0" font-size="7.3" font-weight="bold" fill="#e8661e" stroke="#e8661e" stroke-width="0.1" stroke-linejoin="round" text-anchor="middle" textLength="23.3" lengthAdjust="spacing">1300m</text>
<text transform="scale(0.8,1)" x="774.12" y="745.6" font-size="7.3" font-weight="bold" fill="#e8661e" stroke="#e8661e" stroke-width="0.1" stroke-linejoin="round" text-anchor="middle" textLength="21.1" lengthAdjust="spacing">16min</text>
<text transform="scale(0.8,1)" x="575.00" y="802.7" font-size="7.3" font-weight="bold" fill="#e8661e" stroke="#e8661e" stroke-width="0.1" stroke-linejoin="round" text-anchor="middle" textLength="23.3" lengthAdjust="spacing">1600m</text>
<text transform="scale(0.8,1)" x="575.00" y="809.3" font-size="7.3" font-weight="bold" fill="#e8661e" stroke="#e8661e" stroke-width="0.1" stroke-linejoin="round" text-anchor="middle" textLength="21.1" lengthAdjust="spacing">20min</text>
<text x="51.8" y="58.6" font-size="33.6" fill="#a9a9a9" stroke="#fff" stroke-width="0.5" paint-order="fill" textLength="87.6" lengthAdjust="spacingAndGlyphs">metro</text>
<text x="139.6" y="58.8" font-size="35" font-weight="bold" fill="#a9a9a9" textLength="116.6" lengthAdjust="spacingAndGlyphs">minuto</text>
<text x="51.3" y="94.6" font-size="35.8" font-weight="bold" fill="#000" textLength="327.6" lengthAdjust="spacingAndGlyphs">Alfara del Patriarca</text>
<rect x="52" y="107" width="413" height="1.6" fill="#b5b5b5"/>
<rect x="50.6" y="123.3" width="272.6" height="16.9" rx="4.5" fill="#a8a8a8"/>
<text x="56.8" y="137.5" font-size="15.6" font-weight="bold" fill="#fff" textLength="261" lengthAdjust="spacingAndGlyphs">DISTÀNCIES I TEMPS CAMINANT</text>
<text x="51.5" y="156.4" font-size="9.4" fill="#151515" stroke="#151515" stroke-width="0.35" textLength="271" lengthAdjust="spacingAndGlyphs">Temps per a caminar per la ciutat a una velocitat mitjana de 5 km/h</text>
<text x="51.5" y="167.3" font-size="9.4" fill="#151515" stroke="#151515" stroke-width="0.35" textLength="271.5" lengthAdjust="spacingAndGlyphs">Un càlcul de la distància i temps que li portarà recórrer diferents trajectes</text>
<rect x="477" y="41.8" width="4.2" height="4.4" fill="#e30b37"/>
<text x="483.0" y="46.3" font-size="6.6" font-weight="bold" fill="#e30b37" stroke="#e30b37" stroke-width="0.3" stroke-linejoin="round" text-anchor="start" textLength="14.5" lengthAdjust="spacingAndGlyphs">1 min</text>
<rect x="499.6" y="41.8" width="63.6" height="4.4" fill="#e30b37"/>
<rect x="477" y="51.6" width="4.2" height="4.4" fill="#e84a8b"/>
<text x="483.0" y="56.1" font-size="6.6" font-weight="bold" fill="#e84a8b" stroke="#e84a8b" stroke-width="0.3" stroke-linejoin="round" text-anchor="start" textLength="14.5" lengthAdjust="spacingAndGlyphs">2 min</text>
<rect x="499.6" y="51.6" width="63.6" height="4.4" fill="#e84a8b"/>
<rect x="477" y="61.5" width="4.2" height="4.4" fill="#a4569d"/>
<text x="483.0" y="66.0" font-size="6.6" font-weight="bold" fill="#a4569d" stroke="#a4569d" stroke-width="0.3" stroke-linejoin="round" text-anchor="start" textLength="14.5" lengthAdjust="spacingAndGlyphs">3 min</text>
<rect x="499.6" y="61.5" width="63.6" height="4.4" fill="#a4569d"/>
<rect x="477" y="71.3" width="4.2" height="4.4" fill="#4b69aa"/>
<text x="483.0" y="75.8" font-size="6.6" font-weight="bold" fill="#4b69aa" stroke="#4b69aa" stroke-width="0.3" stroke-linejoin="round" text-anchor="start" textLength="14.5" lengthAdjust="spacingAndGlyphs">4 min</text>
<rect x="499.6" y="71.3" width="63.6" height="4.4" fill="#4b69aa"/>
<rect x="477" y="81.2" width="4.2" height="4.4" fill="#2b3481"/>
<text x="483.0" y="85.7" font-size="6.6" font-weight="bold" fill="#2b3481" stroke="#2b3481" stroke-width="0.3" stroke-linejoin="round" text-anchor="start" textLength="14.5" lengthAdjust="spacingAndGlyphs">5 min</text>
<rect x="499.6" y="81.2" width="63.6" height="4.4" fill="#2b3481"/>
<rect x="477" y="91.0" width="4.2" height="4.4" fill="#1ba1c8"/>
<text x="483.0" y="95.5" font-size="6.6" font-weight="bold" fill="#1ba1c8" stroke="#1ba1c8" stroke-width="0.3" stroke-linejoin="round" text-anchor="start" textLength="14.5" lengthAdjust="spacingAndGlyphs">6 min</text>
<rect x="499.6" y="91.0" width="63.6" height="4.4" fill="#1ba1c8"/>
<rect x="593" y="41.8" width="4.2" height="4.4" fill="#1ba99b"/>
<text x="599.0" y="46.3" font-size="6.6" font-weight="bold" fill="#1ba99b" stroke="#1ba99b" stroke-width="0.3" stroke-linejoin="round" text-anchor="start" textLength="15.2" lengthAdjust="spacingAndGlyphs">7 min</text>
<rect x="616" y="41.8" width="57.0" height="4.4" fill="#1ba99b"/>
<rect x="593" y="51.6" width="4.2" height="4.4" fill="#12794a"/>
<text x="599.0" y="56.1" font-size="6.6" font-weight="bold" fill="#12794a" stroke="#12794a" stroke-width="0.3" stroke-linejoin="round" text-anchor="start" textLength="15.2" lengthAdjust="spacingAndGlyphs">8 min</text>
<rect x="616" y="51.6" width="57.0" height="4.4" fill="#12794a"/>
<rect x="593" y="61.5" width="4.2" height="4.4" fill="#2aa64f"/>
<text x="599.0" y="66.0" font-size="6.6" font-weight="bold" fill="#2aa64f" stroke="#2aa64f" stroke-width="0.3" stroke-linejoin="round" text-anchor="start" textLength="15.2" lengthAdjust="spacingAndGlyphs">9 min</text>
<rect x="616" y="61.5" width="57.0" height="4.4" fill="#2aa64f"/>
<rect x="593" y="71.3" width="4.2" height="4.4" fill="#9dcb71"/>
<text x="599.0" y="75.8" font-size="6.6" font-weight="bold" fill="#9dcb71" stroke="#9dcb71" stroke-width="0.3" stroke-linejoin="round" text-anchor="start" textLength="18.7" lengthAdjust="spacingAndGlyphs">10 min</text>
<rect x="619.5" y="71.3" width="53.5" height="4.4" fill="#9dcb71"/>
<rect x="593" y="81.2" width="4.2" height="4.4" fill="#f39b3b"/>
<text x="599.0" y="85.7" font-size="6.6" font-weight="bold" fill="#f39b3b" stroke="#f39b3b" stroke-width="0.3" stroke-linejoin="round" text-anchor="start" textLength="22.5" lengthAdjust="spacingAndGlyphs">+10 min</text>
<rect x="623.3" y="81.2" width="49.7" height="4.4" fill="#f39b3b"/>
<rect x="593" y="91.0" width="4.2" height="4.4" fill="#e8661e"/>
<text x="599.0" y="95.5" font-size="6.6" font-weight="bold" fill="#e8661e" stroke="#e8661e" stroke-width="0.3" stroke-linejoin="round" text-anchor="start" textLength="22.5" lengthAdjust="spacingAndGlyphs">+15 min</text>
<rect x="623.3" y="91.0" width="49.7" height="4.4" fill="#e8661e"/>
<circle cx="479.7" cy="126.6" r="3.4" fill="#000"/>
<text x="491.0" y="129.2" font-size="7.0" font-weight="bold" fill="#111" stroke="#111" stroke-width="0.3" stroke-linejoin="round" text-anchor="start" textLength="23.9" lengthAdjust="spacingAndGlyphs">UBICACIÓ</text>
<circle cx="479.7" cy="139.2" r="2.2" fill="none" stroke="#2b3f92" stroke-width="1.3"/>
<circle cx="483.10" cy="139.20" r="0.8" fill="#2b3f92"/>
<circle cx="482.10" cy="141.60" r="0.8" fill="#2b3f92"/>
<circle cx="479.70" cy="142.60" r="0.8" fill="#2b3f92"/>
<circle cx="477.30" cy="141.60" r="0.8" fill="#2b3f92"/>
<circle cx="476.30" cy="139.20" r="0.8" fill="#2b3f92"/>
<circle cx="477.30" cy="136.80" r="0.8" fill="#2b3f92"/>
<circle cx="479.70" cy="135.80" r="0.8" fill="#2b3f92"/>
<circle cx="482.10" cy="136.80" r="0.8" fill="#2b3f92"/>
<text x="491.0" y="141.8" font-size="7.0" font-weight="bold" fill="#111" stroke="#111" stroke-width="0.3" stroke-linejoin="round" text-anchor="start" textLength="19.5" lengthAdjust="spacingAndGlyphs">POLICIA</text>
<g transform="translate(479.4,151.8) scale(0.85)"><path fill="#5b90d0" d="M-6.5,-1.6 L0.2,-4.6 L6.8,-1.6 L0.2,1.4 Z"/><path fill="#5b90d0" d="M-3.6,0 L-3.6,2.6 C-2.2,4.4 2.6,4.4 4,2.6 L4,0 L0.2,1.9 Z"/><path fill="none" stroke="#5b90d0" stroke-width="0.9" d="M-5.6,-1.2 L-5.6,3.8"/></g>
<text x="491.0" y="154.3" font-size="7.0" font-weight="bold" fill="#111" stroke="#111" stroke-width="0.3" stroke-linejoin="round" text-anchor="start" textLength="24.5" lengthAdjust="spacingAndGlyphs">EDUCACIÓ</text>
<rect x="476.2" y="160.4" width="8.6" height="8.4" fill="#d8ebf5"/>
<text x="491.0" y="167.0" font-size="7.0" font-weight="bold" fill="#111" stroke="#111" stroke-width="0.3" stroke-linejoin="round" text-anchor="start" textLength="23.5" lengthAdjust="spacingAndGlyphs">BARRANC</text>
<path fill="#9d9d9d" d="M545.6,125.2 L550.8,122.6 L556,125.2 Z M546.4,125.8 h8.8 v0.7 h-8.8 Z M546.9,127 h1.2 v3.6 h-1.2 Z M548.9,127 h1.2 v3.6 h-1.2 Z M550.9,127 h1.2 v3.6 h-1.2 Z M552.9,127 h1.2 v3.6 h-1.2 Z M545.8,130.9 h10 v1.2 h-10 Z"/>
<text x="561.0" y="129.2" font-size="7.0" font-weight="bold" fill="#111" stroke="#111" stroke-width="0.3" stroke-linejoin="round" text-anchor="start" textLength="32.6" lengthAdjust="spacingAndGlyphs">AJUNTAMENT</text>
<path fill="#e42320" d="M549.8,135.3 h2.2 v3 h3 v2.2 h-3 v3 h-2.2 v-3 h-3 v-2.2 h3 Z"/>
<text x="561.0" y="141.8" font-size="7.0" font-weight="bold" fill="#111" stroke="#111" stroke-width="0.3" stroke-linejoin="round" text-anchor="start" textLength="16.5" lengthAdjust="spacingAndGlyphs">SALUT</text>
<g transform="translate(546.3,147.5) scale(0.45)"><use href="#treeShape" fill="#dadf4b"/></g>
<text x="561.0" y="154.3" font-size="7.0" font-weight="bold" fill="#111" stroke="#111" stroke-width="0.3" stroke-linejoin="round" text-anchor="start" textLength="35.8" lengthAdjust="spacingAndGlyphs">ZONES VERDES</text>
<g transform="translate(550.8,164.6) scale(0.75)" fill="#e8681c" stroke="#e8681c" stroke-linecap="round" stroke-linejoin="round"><circle cx="3.4" cy="-5" r="1.6" stroke="none"/><path fill="none" stroke-width="1.9" d="M-2.2,-2.6 L1.2,-3.6 L3.2,-1.4 L5.6,-0.6 M1.2,-3.6 L-0.6,1.2 L2.6,3.2 L1.4,6.2 M-0.6,1.2 L-2.6,3.6 L-5.6,3.2 M-2.2,-2.6 L-4.4,-0.6"/></g>
<text x="561.0" y="167.0" font-size="7.0" font-weight="bold" fill="#111" stroke="#111" stroke-width="0.3" stroke-linejoin="round" text-anchor="start" textLength="18.8" lengthAdjust="spacingAndGlyphs">ESPORT</text>
<g transform="translate(618.8,123) scale(0.44)"><use href="#pk"/></g>
<text x="632.4" y="129.2" font-size="7.0" font-weight="bold" fill="#111" stroke="#111" stroke-width="0.3" stroke-linejoin="round" text-anchor="start" textLength="33.6" lengthAdjust="spacingAndGlyphs">APARCAMENT</text>
<text x="622.8" y="144" font-size="9.5" font-weight="bold" fill="#e30b20" text-anchor="middle" textLength="8.4" lengthAdjust="spacingAndGlyphs">M</text>
<text x="632.4" y="141.8" font-size="7.0" font-weight="bold" fill="#111" stroke="#111" stroke-width="0.3" stroke-linejoin="round" text-anchor="start" textLength="39.5" lengthAdjust="spacingAndGlyphs">PARADA METRO</text>
<g fill="none" stroke="#c8161d" stroke-width="1.3"><rect x="619.6" y="148.4" width="6.4" height="6" rx="1.2"/><path d="M619.8,151.4 h6"/></g><rect x="620" y="154.2" width="1.3" height="2" fill="#c8161d"/><rect x="624.3" y="154.2" width="1.3" height="2" fill="#c8161d"/>
<text x="632.4" y="154.3" font-size="7.0" font-weight="bold" fill="#111" stroke="#111" stroke-width="0.3" stroke-linejoin="round" text-anchor="start" textLength="31.8" lengthAdjust="spacingAndGlyphs">PARADA BUS</text>
<rect x="618.8" y="160.3" width="8.2" height="8.3" fill="#ebebeb"/>
<text x="632.4" y="167.0" font-size="7.0" font-weight="bold" fill="#111" stroke="#111" stroke-width="0.3" stroke-linejoin="round" text-anchor="start" textLength="30.5" lengthAdjust="spacingAndGlyphs">CARRETERA</text>
<rect x="51" y="922" width="415" height="1.5" fill="#b5b5b5"/>
<path fill="#bccf00" d="M70.5,946.9 C82.8,946.9 92.9,955.1 92.9,965.2 C92.9,972.6 87.6,978.9 80,981.7 C80.4,985 82,988.2 84.5,990.3 C80.6,989.8 77.2,987.4 75.2,983.2 C73.7,983.4 72.1,983.5 70.5,983.5 C58.2,983.5 48.2,975.3 48.2,965.2 C48.2,955.1 58.2,946.9 70.5,946.9 Z"/>
<circle cx="70.5" cy="952.4" r="2.6" fill="#fff"/><path fill="#fff" d="M68.8,955.8 L72.4,955.8 L77.9,965.4 L76.8,966.4 L72.8,961.2 L73.6,968.6 L78.2,978.2 L76.6,979.6 L70.3,970.4 L64.4,979.4 L62.9,978.4 L67.4,967.6 L67.8,960.8 L64.8,964.9 L63.7,964 Z"/>
<text x="95.8" y="971.4" font-size="28" fill="#58595b" stroke="#58595b" stroke-width="0.8" textLength="7.2" lengthAdjust="spacingAndGlyphs">C</text>
<g fill="#58595b"><path d="M107.8,948.8 L105.4,952.6 H110.2 Z"/><rect x="106.9" y="953.6" width="1.8" height="2.2"/><rect x="106.9" y="957.4" width="1.8" height="2.2"/><rect x="106.9" y="961.2" width="1.8" height="2.2"/><rect x="106.9" y="965" width="1.8" height="2.2"/><rect x="106.9" y="968.8" width="1.8" height="2.4"/></g>
<text x="110.8" y="971.4" font-size="28" fill="#58595b" stroke="#58595b" stroke-width="0.8" textLength="57" lengthAdjust="spacingAndGlyphs">UDADES</text>
<text x="92.3" y="982.3" font-size="9" fill="#58595b" textLength="13.5" lengthAdjust="spacingAndGlyphs">que</text>
<text x="110" y="988.4" font-size="18.5" fill="#58595b" stroke="#58595b" stroke-width="0.2" textLength="61" lengthAdjust="spacingAndGlyphs">caminan</text>
<g fill="#7b4a2c"><path d="M232.6,956 L233.2,950.2 L235.4,953 L236.8,953.6 L238.7,950 L240.6,953.6 L242.8,953.6 L244.9,950 L247,953.6 L249,953.6 L250.8,950 L252.6,953.6 L254.2,953 L256.4,950.2 L257.1,956 Z"/><rect x="232.6" y="956.6" width="24.5" height="1.5"/>
<path d="M232.9,959.9 H256.8 V976 C256.8,984.5 251.5,990.7 244.85,990.7 C238.2,990.7 232.9,984.5 232.9,976 Z"/></g>
<path fill="#fff" d="M234,975.4 H255.7 V976 C255.7,983.8 250.8,989.6 244.85,989.6 C238.9,989.6 234,983.8 234,976 Z"/>
<path fill="#fff" d="M235.8,961.8 L236.4,962.6999999999999 L237.3,963.3 L236.4,963.9 L235.8,964.8 L235.20000000000002,963.9 L234.3,963.3 L235.20000000000002,962.6999999999999 ZM241.9,961.8 L242.5,962.6999999999999 L243.4,963.3 L242.5,963.9 L241.9,964.8 L241.3,963.9 L240.4,963.3 L241.3,962.6999999999999 ZM247.8,961.8 L248.4,962.6999999999999 L249.3,963.3 L248.4,963.9 L247.8,964.8 L247.20000000000002,963.9 L246.3,963.3 L247.20000000000002,962.6999999999999 ZM253.6,961.8 L254.2,962.6999999999999 L255.1,963.3 L254.2,963.9 L253.6,964.8 L253.0,963.9 L252.1,963.3 L253.0,962.6999999999999 ZM235.8,967.2 L236.4,968.1 L237.3,968.7 L236.4,969.3000000000001 L235.8,970.2 L235.20000000000002,969.3000000000001 L234.3,968.7 L235.20000000000002,968.1 ZM241.9,967.2 L242.5,968.1 L243.4,968.7 L242.5,969.3000000000001 L241.9,970.2 L241.3,969.3000000000001 L240.4,968.7 L241.3,968.1 ZM247.8,967.2 L248.4,968.1 L249.3,968.7 L248.4,969.3000000000001 L247.8,970.2 L247.20000000000002,969.3000000000001 L246.3,968.7 L247.20000000000002,968.1 ZM253.6,967.2 L254.2,968.1 L255.1,968.7 L254.2,969.3000000000001 L253.6,970.2 L253.0,969.3000000000001 L252.1,968.7 L253.0,968.1 ZM238.8,970.8 L240.4,972.6 L237.20000000000002,972.6 ZM244.85,970.8 L246.45,972.6 L243.25,972.6 ZM250.7,970.8 L252.29999999999998,972.6 L249.1,972.6 ZM234.20000000000002,973.6 H237.4 L236.60000000000002,972.8 H235.0 ZM240.3,973.6 H243.5 L242.70000000000002,972.8 H241.1 ZM246.20000000000002,973.6 H249.4 L248.60000000000002,972.8 H247.0 ZM252.0,973.6 H255.2 L254.4,972.8 H252.79999999999998 Z"/>
<g fill="#7b4a2c"><rect x="237.3" y="978.1" width="15.1" height="1.3" rx="0.6"/><rect x="244.3" y="977" width="1.1" height="1.4"/><path d="M240.6,980 L238.6,986.6 H242.6 Z M249.4,980 L247.4,986.6 H251.4 Z"/></g>
<text x="278.7" y="963.6" font-size="17.4" fill="#7b4a2c" stroke="#7b4a2c" stroke-width="0.7" textLength="64.5" lengthAdjust="spacingAndGlyphs">ALFARA</text>
<text x="277.5" y="976" font-family="Liberation Serif, serif" font-size="8.2" fill="#7b4a2c">del</text>
<text x="290" y="976" font-family="Liberation Serif, serif" font-size="11" fill="#7b4a2c" textLength="71.2" lengthAdjust="spacingAndGlyphs">PATRIARCA</text>
<rect x="277" y="981" width="47.5" height="9" fill="#7b4a2c"/>
<text x="279.5" y="988.4" font-size="7" fill="#fff" textLength="42.5" lengthAdjust="spacingAndGlyphs">AJUNTAMENT</text>
<g fill="none" stroke="#222" stroke-width="1.1" stroke-linejoin="round"><circle cx="429.2" cy="947.4" r="3.9"/><path d="M427,951.4 C424.6,954 421.4,958.4 420.4,961.4 C420,962.6 421.2,963.2 422,962.2 L426.2,957.8 L426.6,963.8 L419.4,979.8 C418.6,981.6 420.4,982.6 421.6,981.4 L429,968.8 L435.6,981.2 C436.6,982.6 438.6,981.8 438,980 L433.4,964.4 L433.6,958.4 L436.4,962.2 C437.2,963.2 438.6,962.6 438.2,961.4 C437.2,958.4 435,953.6 431.6,951.4 Z"/></g>
<circle cx="465.4" cy="946.7" r="0.95" fill="#1bb3d1"/><circle cx="462.5" cy="946.7" r="0.95" fill="#1bb3d1"/><circle cx="459.7" cy="946.7" r="0.95" fill="#1bb3d1"/><circle cx="456.8" cy="946.7" r="0.95" fill="#1bb3d1"/><circle cx="454.0" cy="946.7" r="0.95" fill="#1bb3d1"/><circle cx="451.1" cy="946.7" r="0.95" fill="#1bb3d1"/><circle cx="448.3" cy="946.7" r="0.95" fill="#1bb3d1"/><circle cx="445.4" cy="946.7" r="0.95" fill="#1bb3d1"/><circle cx="442.6" cy="946.7" r="0.95" fill="#1bb3d1"/><circle cx="439.7" cy="946.7" r="0.95" fill="#1bb3d1"/><circle cx="436.9" cy="946.7" r="0.95" fill="#1bb3d1"/><circle cx="465.4" cy="952.5" r="0.95" fill="#2ba3d8"/><circle cx="462.5" cy="952.5" r="0.95" fill="#2ba3d8"/><circle cx="459.7" cy="952.5" r="0.95" fill="#2ba3d8"/><circle cx="456.8" cy="952.5" r="0.95" fill="#2ba3d8"/><circle cx="454.0" cy="952.5" r="0.95" fill="#2ba3d8"/><circle cx="451.1" cy="952.5" r="0.95" fill="#2ba3d8"/><circle cx="448.3" cy="952.5" r="0.95" fill="#2ba3d8"/><circle cx="445.4" cy="952.5" r="0.95" fill="#2ba3d8"/><circle cx="442.6" cy="952.5" r="0.95" fill="#2ba3d8"/><circle cx="439.7" cy="952.5" r="0.95" fill="#2ba3d8"/><circle cx="465.4" cy="958.2" r="0.95" fill="#6c4aa8"/><circle cx="462.5" cy="958.2" r="0.95" fill="#6c4aa8"/><circle cx="459.7" cy="958.2" r="0.95" fill="#6c4aa8"/><circle cx="456.8" cy="958.2" r="0.95" fill="#6c4aa8"/><circle cx="454.0" cy="958.2" r="0.95" fill="#6c4aa8"/><circle cx="451.1" cy="958.2" r="0.95" fill="#6c4aa8"/><circle cx="448.3" cy="958.2" r="0.95" fill="#6c4aa8"/><circle cx="445.4" cy="958.2" r="0.95" fill="#6c4aa8"/><circle cx="442.6" cy="958.2" r="0.95" fill="#6c4aa8"/><circle cx="465.4" cy="964.0" r="0.95" fill="#d33a9a"/><circle cx="462.5" cy="964.0" r="0.95" fill="#d33a9a"/><circle cx="459.7" cy="964.0" r="0.95" fill="#d33a9a"/><circle cx="456.8" cy="964.0" r="0.95" fill="#d33a9a"/><circle cx="454.0" cy="964.0" r="0.95" fill="#d33a9a"/><circle cx="451.1" cy="964.0" r="0.95" fill="#d33a9a"/><circle cx="448.3" cy="964.0" r="0.95" fill="#d33a9a"/><circle cx="445.4" cy="964.0" r="0.95" fill="#d33a9a"/><circle cx="465.4" cy="969.8" r="0.95" fill="#e53a3a"/><circle cx="462.5" cy="969.8" r="0.95" fill="#e53a3a"/><circle cx="459.7" cy="969.8" r="0.95" fill="#e53a3a"/><circle cx="456.8" cy="969.8" r="0.95" fill="#e53a3a"/><circle cx="454.0" cy="969.8" r="0.95" fill="#e53a3a"/><circle cx="451.1" cy="969.8" r="0.95" fill="#e53a3a"/><circle cx="448.3" cy="969.8" r="0.95" fill="#e53a3a"/><circle cx="445.4" cy="969.8" r="0.95" fill="#e53a3a"/><circle cx="442.6" cy="969.8" r="0.95" fill="#e53a3a"/><circle cx="439.7" cy="969.8" r="0.95" fill="#e53a3a"/><circle cx="465.4" cy="975.6" r="0.95" fill="#f39b3b"/><circle cx="462.5" cy="975.6" r="0.95" fill="#f39b3b"/><circle cx="459.7" cy="975.6" r="0.95" fill="#f39b3b"/><circle cx="456.8" cy="975.6" r="0.95" fill="#f39b3b"/><circle cx="454.0" cy="975.6" r="0.95" fill="#f39b3b"/><circle cx="451.1" cy="975.6" r="0.95" fill="#f39b3b"/><circle cx="448.3" cy="975.6" r="0.95" fill="#f39b3b"/><circle cx="445.4" cy="975.6" r="0.95" fill="#f39b3b"/><circle cx="442.6" cy="975.6" r="0.95" fill="#f39b3b"/><circle cx="465.4" cy="981.3" r="0.95" fill="#3aae4a"/><circle cx="462.5" cy="981.3" r="0.95" fill="#3aae4a"/><circle cx="459.7" cy="981.3" r="0.95" fill="#3aae4a"/><circle cx="456.8" cy="981.3" r="0.95" fill="#3aae4a"/><circle cx="454.0" cy="981.3" r="0.95" fill="#3aae4a"/><circle cx="451.1" cy="981.3" r="0.95" fill="#3aae4a"/><circle cx="448.3" cy="981.3" r="0.95" fill="#3aae4a"/><circle cx="445.4" cy="981.3" r="0.95" fill="#3aae4a"/>
<text x="418.8" y="990.3" font-size="8.6" fill="#333" textLength="47" lengthAdjust="spacingAndGlyphs"><tspan>metro</tspan><tspan font-weight="bold">minuto</tspan></text>
<text x="470.3" y="990" font-size="4.6" fill="#444" textLength="60" lengthAdjust="spacingAndGlyphs">© concello de pontevedra</text>
<text x="596.3" y="927.3" font-size="6.1" fill="#222" text-anchor="end">Descàrrega el</text>
<text x="596.3" y="934.5" font-size="6.1" fill="#222" text-anchor="end">metrominuto</text>
<text x="596.3" y="941.7" font-size="6.1" fill="#222" text-anchor="end">escanejant</text>
<text x="596.3" y="949.6" font-size="6.1" fill="#222" text-anchor="end">aquest <tspan font-weight="bold">codi QR</tspan></text>
<path fill="#000" d="M607.10,922.20h14.35v2.05h-14.35zM623.50,922.20h10.25v2.05h-10.25zM635.80,922.20h4.10v2.05h-4.10zM646.05,922.20h2.05v2.05h-2.05zM650.15,922.20h2.05v2.05h-2.05zM654.25,922.20h4.10v2.05h-4.10zM660.40,922.20h14.35v2.05h-14.35zM607.10,924.25h2.05v2.05h-2.05zM619.40,924.25h2.05v2.05h-2.05zM623.50,924.25h2.05v2.05h-2.05zM629.65,924.25h2.05v2.05h-2.05zM639.90,924.25h2.05v2.05h-2.05zM644.00,924.25h4.10v2.05h-4.10zM650.15,924.25h6.15v2.05h-6.15zM660.40,924.25h2.05v2.05h-2.05zM672.70,924.25h2.05v2.05h-2.05zM607.10,926.30h2.05v2.05h-2.05zM611.20,926.30h6.15v2.05h-6.15zM619.40,926.30h2.05v2.05h-2.05zM625.55,926.30h4.10v2.05h-4.10zM631.70,926.30h10.25v2.05h-10.25zM644.00,926.30h6.15v2.05h-6.15zM652.20,926.30h4.10v2.05h-4.10zM660.40,926.30h2.05v2.05h-2.05zM664.50,926.30h6.15v2.05h-6.15zM672.70,926.30h2.05v2.05h-2.05zM607.10,928.35h2.05v2.05h-2.05zM611.20,928.35h6.15v2.05h-6.15zM619.40,928.35h2.05v2.05h-2.05zM623.50,928.35h4.10v2.05h-4.10zM639.90,928.35h2.05v2.05h-2.05zM650.15,928.35h6.15v2.05h-6.15zM660.40,928.35h2.05v2.05h-2.05zM664.50,928.35h6.15v2.05h-6.15zM672.70,928.35h2.05v2.05h-2.05zM607.10,930.40h2.05v2.05h-2.05zM611.20,930.40h6.15v2.05h-6.15zM619.40,930.40h2.05v2.05h-2.05zM623.50,930.40h4.10v2.05h-4.10zM631.70,930.40h12.30v2.05h-12.30zM646.05,930.40h4.10v2.05h-4.10zM654.25,930.40h2.05v2.05h-2.05zM660.40,930.40h2.05v2.05h-2.05zM664.50,930.40h6.15v2.05h-6.15zM672.70,930.40h2.05v2.05h-2.05zM607.10,932.45h2.05v2.05h-2.05zM619.40,932.45h2.05v2.05h-2.05zM629.65,932.45h2.05v2.05h-2.05zM633.75,932.45h10.25v2.05h-10.25zM648.10,932.45h2.05v2.05h-2.05zM656.30,932.45h2.05v2.05h-2.05zM660.40,932.45h2.05v2.05h-2.05zM672.70,932.45h2.05v2.05h-2.05zM607.10,934.50h14.35v2.05h-14.35zM623.50,934.50h2.05v2.05h-2.05zM627.60,934.50h2.05v2.05h-2.05zM631.70,934.50h2.05v2.05h-2.05zM635.80,934.50h2.05v2.05h-2.05zM639.90,934.50h2.05v2.05h-2.05zM644.00,934.50h2.05v2.05h-2.05zM648.10,934.50h2.05v2.05h-2.05zM652.20,934.50h2.05v2.05h-2.05zM656.30,934.50h2.05v2.05h-2.05zM660.40,934.50h14.35v2.05h-14.35zM625.55,936.55h6.15v2.05h-6.15zM633.75,936.55h4.10v2.05h-4.10zM641.95,936.55h2.05v2.05h-2.05zM652.20,936.55h6.15v2.05h-6.15zM611.20,938.60h2.05v2.05h-2.05zM615.30,938.60h6.15v2.05h-6.15zM629.65,938.60h2.05v2.05h-2.05zM639.90,938.60h2.05v2.05h-2.05zM644.00,938.60h2.05v2.05h-2.05zM654.25,938.60h2.05v2.05h-2.05zM662.45,938.60h12.30v2.05h-12.30zM613.25,940.65h2.05v2.05h-2.05zM625.55,940.65h2.05v2.05h-2.05zM629.65,940.65h4.10v2.05h-4.10zM637.85,940.65h4.10v2.05h-4.10zM644.00,940.65h6.15v2.05h-6.15zM652.20,940.65h2.05v2.05h-2.05zM656.30,940.65h6.15v2.05h-6.15zM666.55,940.65h2.05v2.05h-2.05zM607.10,942.70h6.15v2.05h-6.15zM615.30,942.70h6.15v2.05h-6.15zM625.55,942.70h4.10v2.05h-4.10zM635.80,942.70h4.10v2.05h-4.10zM641.95,942.70h4.10v2.05h-4.10zM652.20,942.70h2.05v2.05h-2.05zM656.30,942.70h2.05v2.05h-2.05zM660.40,942.70h4.10v2.05h-4.10zM668.60,942.70h4.10v2.05h-4.10zM607.10,944.75h12.30v2.05h-12.30zM623.50,944.75h2.05v2.05h-2.05zM627.60,944.75h10.25v2.05h-10.25zM641.95,944.75h4.10v2.05h-4.10zM648.10,944.75h2.05v2.05h-2.05zM652.20,944.75h4.10v2.05h-4.10zM658.35,944.75h2.05v2.05h-2.05zM666.55,944.75h2.05v2.05h-2.05zM607.10,946.80h10.25v2.05h-10.25zM619.40,946.80h6.15v2.05h-6.15zM631.70,946.80h14.35v2.05h-14.35zM652.20,946.80h2.05v2.05h-2.05zM656.30,946.80h10.25v2.05h-10.25zM668.60,946.80h2.05v2.05h-2.05zM672.70,946.80h2.05v2.05h-2.05zM607.10,948.85h12.30v2.05h-12.30zM633.75,948.85h4.10v2.05h-4.10zM639.90,948.85h2.05v2.05h-2.05zM646.05,948.85h2.05v2.05h-2.05zM658.35,948.85h2.05v2.05h-2.05zM611.20,950.90h10.25v2.05h-10.25zM631.70,950.90h4.10v2.05h-4.10zM646.05,950.90h2.05v2.05h-2.05zM650.15,950.90h6.15v2.05h-6.15zM658.35,950.90h2.05v2.05h-2.05zM664.50,950.90h6.15v2.05h-6.15zM611.20,952.95h6.15v2.05h-6.15zM623.50,952.95h6.15v2.05h-6.15zM635.80,952.95h2.05v2.05h-2.05zM639.90,952.95h6.15v2.05h-6.15zM648.10,952.95h2.05v2.05h-2.05zM654.25,952.95h4.10v2.05h-4.10zM662.45,952.95h6.15v2.05h-6.15zM670.65,952.95h2.05v2.05h-2.05zM607.10,955.00h2.05v2.05h-2.05zM613.25,955.00h2.05v2.05h-2.05zM619.40,955.00h2.05v2.05h-2.05zM623.50,955.00h2.05v2.05h-2.05zM627.60,955.00h18.45v2.05h-18.45zM648.10,955.00h2.05v2.05h-2.05zM654.25,955.00h2.05v2.05h-2.05zM662.45,955.00h6.15v2.05h-6.15zM672.70,955.00h2.05v2.05h-2.05zM607.10,957.05h8.20v2.05h-8.20zM617.35,957.05h2.05v2.05h-2.05zM621.45,957.05h4.10v2.05h-4.10zM627.60,957.05h4.10v2.05h-4.10zM648.10,957.05h2.05v2.05h-2.05zM652.20,957.05h2.05v2.05h-2.05zM658.35,957.05h4.10v2.05h-4.10zM664.50,957.05h8.20v2.05h-8.20zM609.15,959.10h2.05v2.05h-2.05zM613.25,959.10h2.05v2.05h-2.05zM617.35,959.10h8.20v2.05h-8.20zM627.60,959.10h4.10v2.05h-4.10zM635.80,959.10h16.40v2.05h-16.40zM658.35,959.10h4.10v2.05h-4.10zM664.50,959.10h8.20v2.05h-8.20zM607.10,961.15h2.05v2.05h-2.05zM615.30,961.15h4.10v2.05h-4.10zM621.45,961.15h4.10v2.05h-4.10zM631.70,961.15h4.10v2.05h-4.10zM639.90,961.15h2.05v2.05h-2.05zM644.00,961.15h4.10v2.05h-4.10zM656.30,961.15h6.15v2.05h-6.15zM607.10,963.20h2.05v2.05h-2.05zM611.20,963.20h2.05v2.05h-2.05zM615.30,963.20h2.05v2.05h-2.05zM619.40,963.20h8.20v2.05h-8.20zM631.70,963.20h4.10v2.05h-4.10zM639.90,963.20h4.10v2.05h-4.10zM646.05,963.20h6.15v2.05h-6.15zM658.35,963.20h6.15v2.05h-6.15zM668.60,963.20h6.15v2.05h-6.15zM609.15,965.25h4.10v2.05h-4.10zM617.35,965.25h2.05v2.05h-2.05zM621.45,965.25h4.10v2.05h-4.10zM627.60,965.25h2.05v2.05h-2.05zM635.80,965.25h2.05v2.05h-2.05zM639.90,965.25h2.05v2.05h-2.05zM644.00,965.25h4.10v2.05h-4.10zM650.15,965.25h2.05v2.05h-2.05zM654.25,965.25h8.20v2.05h-8.20zM666.55,965.25h6.15v2.05h-6.15zM607.10,967.30h8.20v2.05h-8.20zM619.40,967.30h2.05v2.05h-2.05zM625.55,967.30h4.10v2.05h-4.10zM633.75,967.30h2.05v2.05h-2.05zM637.85,967.30h14.35v2.05h-14.35zM654.25,967.30h2.05v2.05h-2.05zM658.35,967.30h4.10v2.05h-4.10zM666.55,967.30h8.20v2.05h-8.20zM609.15,969.35h4.10v2.05h-4.10zM615.30,969.35h4.10v2.05h-4.10zM623.50,969.35h6.15v2.05h-6.15zM631.70,969.35h2.05v2.05h-2.05zM637.85,969.35h4.10v2.05h-4.10zM646.05,969.35h2.05v2.05h-2.05zM650.15,969.35h6.15v2.05h-6.15zM664.50,969.35h6.15v2.05h-6.15zM607.10,971.40h8.20v2.05h-8.20zM617.35,971.40h4.10v2.05h-4.10zM629.65,971.40h6.15v2.05h-6.15zM637.85,971.40h4.10v2.05h-4.10zM644.00,971.40h6.15v2.05h-6.15zM652.20,971.40h2.05v2.05h-2.05zM656.30,971.40h12.30v2.05h-12.30zM670.65,971.40h4.10v2.05h-4.10zM623.50,973.45h2.05v2.05h-2.05zM627.60,973.45h2.05v2.05h-2.05zM631.70,973.45h8.20v2.05h-8.20zM644.00,973.45h4.10v2.05h-4.10zM652.20,973.45h2.05v2.05h-2.05zM656.30,973.45h2.05v2.05h-2.05zM664.50,973.45h2.05v2.05h-2.05zM670.65,973.45h4.10v2.05h-4.10zM607.10,975.50h14.35v2.05h-14.35zM623.50,975.50h2.05v2.05h-2.05zM629.65,975.50h2.05v2.05h-2.05zM635.80,975.50h10.25v2.05h-10.25zM650.15,975.50h8.20v2.05h-8.20zM660.40,975.50h2.05v2.05h-2.05zM664.50,975.50h2.05v2.05h-2.05zM668.60,975.50h6.15v2.05h-6.15zM607.10,977.55h2.05v2.05h-2.05zM619.40,977.55h2.05v2.05h-2.05zM625.55,977.55h2.05v2.05h-2.05zM629.65,977.55h4.10v2.05h-4.10zM637.85,977.55h4.10v2.05h-4.10zM644.00,977.55h4.10v2.05h-4.10zM650.15,977.55h2.05v2.05h-2.05zM654.25,977.55h4.10v2.05h-4.10zM664.50,977.55h2.05v2.05h-2.05zM670.65,977.55h2.05v2.05h-2.05zM607.10,979.60h2.05v2.05h-2.05zM611.20,979.60h6.15v2.05h-6.15zM619.40,979.60h2.05v2.05h-2.05zM627.60,979.60h4.10v2.05h-4.10zM635.80,979.60h4.10v2.05h-4.10zM641.95,979.60h2.05v2.05h-2.05zM650.15,979.60h2.05v2.05h-2.05zM654.25,979.60h14.35v2.05h-14.35zM670.65,979.60h4.10v2.05h-4.10zM607.10,981.65h2.05v2.05h-2.05zM611.20,981.65h6.15v2.05h-6.15zM619.40,981.65h2.05v2.05h-2.05zM623.50,981.65h2.05v2.05h-2.05zM631.70,981.65h4.10v2.05h-4.10zM637.85,981.65h2.05v2.05h-2.05zM641.95,981.65h6.15v2.05h-6.15zM650.15,981.65h4.10v2.05h-4.10zM658.35,981.65h16.40v2.05h-16.40zM607.10,983.70h2.05v2.05h-2.05zM611.20,983.70h6.15v2.05h-6.15zM619.40,983.70h2.05v2.05h-2.05zM625.55,983.70h2.05v2.05h-2.05zM629.65,983.70h2.05v2.05h-2.05zM639.90,983.70h2.05v2.05h-2.05zM644.00,983.70h2.05v2.05h-2.05zM650.15,983.70h2.05v2.05h-2.05zM656.30,983.70h4.10v2.05h-4.10zM662.45,983.70h2.05v2.05h-2.05zM666.55,983.70h2.05v2.05h-2.05zM670.65,983.70h2.05v2.05h-2.05zM607.10,985.75h2.05v2.05h-2.05zM619.40,985.75h2.05v2.05h-2.05zM629.65,985.75h2.05v2.05h-2.05zM633.75,985.75h2.05v2.05h-2.05zM639.90,985.75h2.05v2.05h-2.05zM650.15,985.75h2.05v2.05h-2.05zM656.30,985.75h2.05v2.05h-2.05zM660.40,985.75h2.05v2.05h-2.05zM666.55,985.75h2.05v2.05h-2.05zM670.65,985.75h4.10v2.05h-4.10zM607.10,987.80h14.35v2.05h-14.35zM623.50,987.80h8.20v2.05h-8.20zM633.75,987.80h2.05v2.05h-2.05zM639.90,987.80h4.10v2.05h-4.10zM646.05,987.80h12.30v2.05h-12.30zM662.45,987.80h2.05v2.05h-2.05zM666.55,987.80h4.10v2.05h-4.10zM672.70,987.80h2.05v2.05h-2.05z"/>
</svg>
</body></html>
